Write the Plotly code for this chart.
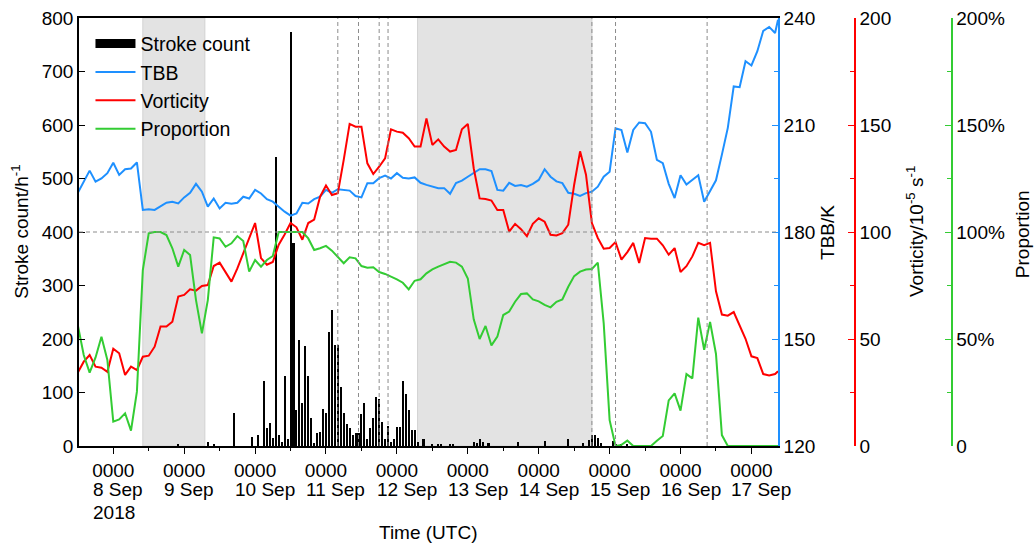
import pandas as pd
import plotly.graph_objects as go

BASE = pd.Timestamp("2018-09-08 00:00")

# ---- data (hours relative to 0000 UTC 8 Sep 2018) ----
line_hours = list(range(-12, 225, 2)) + [225]

tbb = [
    191.0, 194.1, 197.2, 194.1, 195.0, 196.5, 199.4, 196.0, 197.6, 197.8,
    199.5, 186.2, 186.4, 186.2, 187.1, 188.2, 188.5, 188.0, 189.7, 191.0,
    193.5, 191.3, 187.1, 189.4, 186.6, 188.2, 187.9, 188.2, 189.9, 189.4,
    191.8, 190.8, 189.2, 188.5, 187.1, 185.7, 184.6, 185.2, 188.2, 188.0,
    189.2, 189.9, 191.8, 191.0, 192.0, 191.8, 191.6, 190.1, 189.7, 193.7,
    193.7, 195.1, 195.8, 195.0, 196.5, 195.2, 195.0, 195.3, 193.8, 193.2,
    192.7, 192.3, 192.3, 190.7, 193.7, 194.4, 195.5, 196.5, 197.6, 197.6,
    197.1, 191.8, 191.6, 193.8, 192.9, 193.2, 192.7, 193.5, 194.6, 197.6,
    195.5, 194.2, 193.7, 191.0, 190.7, 190.1, 190.9, 191.3, 192.7, 195.5,
    196.9, 209.1, 208.6, 202.3, 208.6, 210.7, 210.5, 208.1, 200.2, 199.3,
    193.5, 189.5, 195.9, 193.3, 194.7, 195.9, 188.5, 191.4, 194.5, 201.7,
    209.2, 220.8, 220.6, 227.9, 226.7, 230.7, 236.4, 237.5, 235.8, 239.5,
]

vorticity = [
    34.3, 39.4, 42.5, 37.1, 36.6, 34.7, 45.5, 43.3, 33.2, 37.1,
    35.5, 41.7, 42.2, 46.4, 55.8, 55.8, 58.1, 69.8, 70.6, 73.2,
    72.6, 74.8, 75.2, 84.1, 85.7, 81.5, 76.8, 83.0, 90.0, 97.8,
    104.2, 87.8, 84.7, 86.0, 94.1, 98.8, 104.2, 102.2, 96.4, 104.2,
    105.8, 116.5, 121.7, 117.3, 118.1, 133.7, 150.5, 149.2, 149.2, 132.1,
    127.1, 130.5, 134.4, 148.0, 146.9, 146.4, 143.8, 139.9, 139.9, 153.0,
    140.7, 143.3, 139.9, 137.6, 138.3, 148.0, 150.5, 129.8, 115.7, 115.4,
    114.7, 110.3, 110.3, 100.2, 103.8, 101.3, 98.1, 103.8, 106.4, 104.8,
    98.7, 98.4, 99.5, 103.4, 122.1, 137.7, 126.8, 104.2, 97.2, 92.2,
    92.5, 95.3, 87.1, 90.6, 94.9, 85.5, 97.2, 96.9, 96.9, 93.8,
    89.4, 92.5, 81.3, 84.0, 88.6, 94.9, 93.8, 94.9, 72.3, 61.4,
    60.9, 62.6, 55.9, 50.1, 41.9, 41.1, 33.6, 33.0, 33.6, 34.9,
]

proportion = [
    56.5, 42.5, 34.3, 41.4, 51.1, 40.2, 11.4, 12.4, 15.3, 7.2,
    25.4, 82.2, 99.4, 100, 100, 98.6, 92.4, 83.8, 91.6, 89.2,
    68.2, 52.6, 68.2, 97.5, 97.0, 93.1, 94.7, 98.1, 95.8, 81.5,
    86.9, 83.8, 86.9, 88.8, 100, 100, 100, 100, 100, 97.0,
    91.6, 92.4, 93.5, 91.3, 88.5, 85.4, 88.2, 87.7, 84.1, 83.3,
    83.5, 81.3, 80.4, 79.3, 77.9, 76.3, 73.2, 77.2, 77.9, 80.7,
    82.5, 83.8, 84.9, 86.1, 85.7, 83.8, 78.3, 59.2, 50.0, 56.1,
    47.0, 51.1, 61.2, 62.8, 67.4, 71.0, 71.3, 68.5, 67.6, 65.9,
    64.8, 67.4, 68.5, 74.4, 79.4, 81.5, 82.5, 82.7, 85.7, 57.3,
    12.1, 0, 0.5, 2.5, 0, 0, 0, 0, 2.5, 4.7,
    21.3, 24.6, 16.5, 33.6, 31.6, 60.0, 45.0, 58.0, 43.0, 5.1,
    0, 0, 0, 0, 0, 0, 0, 0, 0, 0,
]

stroke_hour = [
    22, 32, 34, 41, 47, 49,
    51, 52, 53, 54, 55, 56, 57, 58, 59, 60,
    61, 62, 63, 64, 65, 66, 67, 68, 69, 70,
    71, 72, 73, 74, 75, 76, 77, 78, 79, 80,
    81, 82, 83, 84, 85, 86, 87, 88, 89, 90,
    91, 92, 93, 94, 95, 96, 97, 98, 99, 100,
    101, 102, 103, 105, 108, 110, 111, 114, 115,
    122, 123, 124, 125, 127, 137, 146, 154, 159,
    161, 162, 163, 164, 165, 169, 170, 172, 174,
]
stroke_count = [
    4, 7, 4, 62, 17, 20,
    121, 33, 43, 15, 540, 21, 8, 131, 14, 774,
    380, 67, 199, 81, 186, 130, 52, 5, 24, 27,
    70, 62, 214, 254, 188, 189, 111, 61, 42, 33,
    21, 24, 24, 59, 81, 14, 33, 52, 92, 87,
    45, 14, 37, 8, 14, 36, 36, 122, 97, 68,
    30, 29, 8, 14, 4, 4, 4, 2, 2,
    8, 6, 14, 8, 5, 8, 9, 14, 6,
    12, 21, 20, 15, 6, 9, 4, 3, 4,
]

tick_time_label = "0000"
day_labels = ["8 Sep", "9 Sep", "10 Sep", "11 Sep", "12 Sep", "13 Sep",
              "14 Sep", "15 Sep", "16 Sep", "17 Sep"]
year_label = "2018"
shaded_periods = [(10, 31), (103, 162)]          # hours
marked_hours = [76, 83, 90, 93, 162, 170, 201]   # hours
prop_ticks = [0, 50, 100, 150, 200]
prop_labels = ["0", "50%", "100%", "150%", "200%"]


def t(hours):
    return [BASE + pd.Timedelta(hours=h) for h in hours]


FONT = "Liberation Sans, Arial, sans-serif"
FS = 19
BLUE = "#1E90FF"
RED = "#FF0000"
GREEN = "#33CC33"
XDOM = 0.7312

fig = go.Figure()
fig.add_trace(go.Bar(x=t(stroke_hour), y=stroke_count, marker=dict(color="black", line=dict(width=0)),
                     width=0.7 * 3600 * 1000, showlegend=False, yaxis="y"))
fig.add_trace(go.Scatter(x=[None], y=[None], mode="lines", line=dict(color="black", width=9),
                         name="Stroke count", yaxis="y"))
fig.add_trace(go.Scatter(x=t(line_hours), y=tbb, mode="lines", line=dict(color=BLUE, width=2),
                         name="TBB", yaxis="y2"))
fig.add_trace(go.Scatter(x=t(line_hours), y=vorticity, mode="lines", line=dict(color=RED, width=2),
                         name="Vorticity", yaxis="y3"))
fig.add_trace(go.Scatter(x=t(line_hours), y=proportion, mode="lines", line=dict(color=GREEN, width=2),
                         name="Proportion", yaxis="y4"))

shapes = []
for a, b in shaded_periods:
    s0, s1 = t([a, b])
    shapes.append(dict(type="rect", xref="x", yref="paper", x0=s0, x1=s1, y0=0, y1=1,
                       fillcolor="#e3e3e3", line=dict(color="#d2d2d2", width=1), layer="below"))
for m in marked_hours:
    mt = t([m])[0]
    shapes.append(dict(type="line", xref="x", yref="paper", x0=mt, x1=mt, y0=0, y1=1,
                       line=dict(color="#8c8c8c", width=1, dash="4px,3px"), layer="above"))
shapes.append(dict(type="line", xref="x domain", yref="y", x0=0, x1=1, y0=400, y1=400,
                   line=dict(color="#8c8c8c", width=1, dash="4px,3px"), layer="above"))

tick_font = dict(family=FONT, size=FS, color="black")
txt_font = dict(family=FONT, size=FS, color="black")

day_ticks = t([24 * k for k in range(10)])
annotations = []
# date lines under the "0000" tick labels, left-aligned with them
for tv, lab in zip(day_ticks, day_labels):
    annotations.append(dict(text=lab, xref="x", yref="paper", x=tv, y=-0.1028,
                            xanchor="left", yanchor="middle", xshift=-21, borderpad=0,
                            showarrow=False, font=txt_font))
annotations.append(dict(text=year_label, xref="x", yref="paper", x=day_ticks[0], y=-0.1565,
                        xanchor="left", yanchor="middle", xshift=-21, borderpad=0,
                        showarrow=False, font=txt_font))
annotations += [
    dict(text="Stroke count/h<sup>-1</sup>", textangle=-90, xref="paper", yref="paper",
         x=-0.062, y=0.5, xanchor="center", yanchor="middle", showarrow=False, font=txt_font),
    dict(text="TBB/K", textangle=-90, xref="paper", yref="paper",
         x=0.7824, y=0.5, xanchor="center", yanchor="middle", showarrow=False, font=txt_font),
    dict(text="Vorticity/10<sup>-5</sup> s<sup>-1</sup>", textangle=-90, xref="paper", yref="paper",
         x=0.8745, y=0.5, xanchor="center", yanchor="middle", showarrow=False, font=txt_font),
    dict(text="Proportion", textangle=-90, xref="paper", yref="paper",
         x=0.9864, y=0.495, xanchor="center", yanchor="middle", showarrow=False, font=txt_font),
    dict(text="Time (UTC)", xref="paper", yref="paper",
         x=XDOM / 2, y=-0.2015, xanchor="center", yanchor="middle", showarrow=False, font=txt_font),
]

fig.update_layout(
    template="none",
    width=1035, height=544,
    margin=dict(l=79, r=0, t=18, b=98),
    paper_bgcolor="white", plot_bgcolor="white",
    font=dict(family=FONT, size=FS, color="black"),
    bargap=0,
    shapes=shapes,
    annotations=annotations,
    showlegend=True,
    legend=dict(x=0.012, y=0.985, xanchor="left", yanchor="top", bgcolor="rgba(0,0,0,0)",
                font=dict(family=FONT, size=19.5), itemwidth=40, tracegroupgap=0),
    xaxis=dict(
        type="date", domain=[0, XDOM],
        range=[BASE - pd.Timedelta(hours=11.6), BASE + pd.Timedelta(hours=225)],
        tickmode="array", tickvals=day_ticks, ticktext=[tick_time_label] * len(day_ticks),
        ticks="outside", ticklen=6, tickwidth=1.2, tickcolor="black",
        minor=dict(tickmode="array", tickvals=t([24 * k + 12 for k in range(-1, 10)]),
                   ticks="outside", ticklen=3, tickwidth=1, tickcolor="black"),
        showline=True, linecolor="black", linewidth=1.5, mirror=True,
        showgrid=False, zeroline=False, tickfont=tick_font, automargin=False,
    ),
    yaxis=dict(
        range=[0, 800], tickmode="linear", tick0=0, dtick=100,
        ticks="inside", ticklen=6, tickwidth=1.2, tickcolor="black",
        showline=True, linecolor="black", linewidth=1.5, ticklabeloverflow="allow",
        showgrid=False, zeroline=False, tickfont=tick_font, automargin=False,
    ),
    yaxis2=dict(
        overlaying="y", side="right", anchor="x", range=[120, 240],
        tickmode="linear", tick0=120, dtick=30,
        ticks="inside", ticklen=6, tickwidth=1.2, tickcolor=BLUE,
        minor=dict(dtick=15, tick0=120, ticks="inside", ticklen=4, tickcolor=BLUE),
        showline=True, linecolor=BLUE, linewidth=1.5, ticklabeloverflow="allow",
        showgrid=False, zeroline=False, tickfont=tick_font, automargin=False,
    ),
    yaxis3=dict(
        overlaying="y", side="right", anchor="free", position=0.8117, range=[0, 200],
        tickmode="linear", tick0=0, dtick=50,
        ticks="inside", ticklen=6, tickwidth=1.2, tickcolor=RED,
        minor=dict(dtick=25, tick0=0, ticks="inside", ticklen=4, tickcolor=RED),
        showline=True, linecolor=RED, linewidth=1.5, ticklabeloverflow="allow",
        showgrid=False, zeroline=False, tickfont=tick_font, automargin=False,
    ),
    yaxis4=dict(
        overlaying="y", side="right", anchor="free", position=0.9129, range=[0, 200],
        tickmode="array", tickvals=prop_ticks, ticktext=prop_labels,
        ticks="inside", ticklen=6, tickwidth=1.2, tickcolor=GREEN,
        minor=dict(tickmode="array", tickvals=[25, 75, 125, 175], ticks="inside", ticklen=4, tickcolor=GREEN),
        showline=True, linecolor=GREEN, linewidth=1.5, ticklabeloverflow="allow",
        showgrid=False, zeroline=False, tickfont=tick_font, automargin=False,
    ),
)

# remove the default 8px page margin so the 1035x544 figure fills the window exactly
fig.write_html(
    "out.html",
    config={"displayModeBar": False},
    post_script="document.body.style.margin='0px';document.body.style.overflow='hidden';",
)
